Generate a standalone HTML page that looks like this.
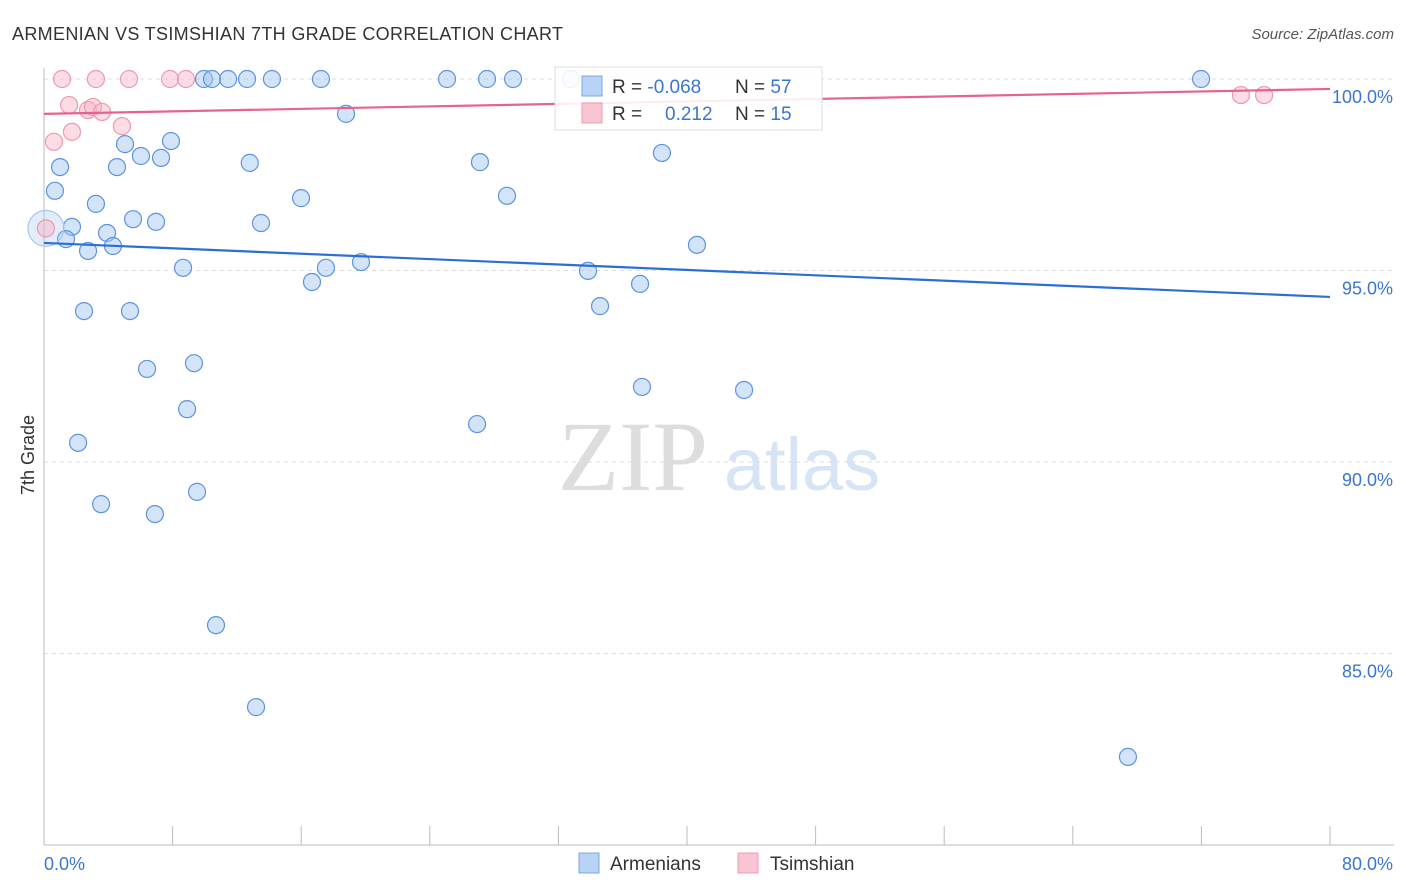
<!DOCTYPE html>
<html><head><meta charset="utf-8"><style>
body{margin:0;background:#fff;font-family:"Liberation Sans",sans-serif}
svg{display:block}
</style></head><body>
<svg id="chart" width="1406" height="892">
<text x="12" y="40" font-size="18" fill="#333" textLength="551">ARMENIAN VS TSIMSHIAN 7TH GRADE CORRELATION CHART</text>
<text x="1394" y="39" font-size="15" fill="#555" text-anchor="end" font-style="italic">Source: ZipAtlas.com</text>
<text x="34" y="455" font-size="18" fill="#333" text-anchor="middle" transform="rotate(-90 34 455)">7th Grade</text>
<g><text x="633" y="490" font-size="100" fill="#ddd" font-family="Liberation Serif,serif" text-anchor="middle">ZIP</text><text x="802" y="490" font-size="74" fill="#d6e4f5" text-anchor="middle">atlas</text></g>
<g id="grid"></g><g id="axes"></g><g id="marks"></g>
<g>
<rect x="555" y="67" width="267" height="63" fill="#fff" fill-opacity="0.88" stroke="#ddd"/>
<rect x="582" y="76" width="20" height="20" fill="#b8d3f5" stroke="#7aa7e6"/>
<rect x="582" y="103" width="20" height="20" fill="#fac5d3" stroke="#f09ab2"/>
<text x="612" y="93" font-size="19" fill="#333">R = <tspan fill="#3a76d0">-0.068</tspan></text>
<text x="735" y="93" font-size="19" fill="#333">N = <tspan fill="#3a76d0">57</tspan></text>
<text x="612" y="120" font-size="19" fill="#333">R = <tspan fill="#3a76d0" x="665">0.212</tspan></text>
<text x="735" y="120" font-size="19" fill="#333">N = <tspan fill="#3a76d0">15</tspan></text>
</g>
<g>
<rect x="579" y="853" width="20" height="20" fill="#b8d3f5" stroke="#7aa7e6"/>
<text x="610" y="870" font-size="19" fill="#333">Armenians</text>
<rect x="738" y="853" width="20" height="20" fill="#fac5d3" stroke="#f09ab2"/>
<text x="770" y="870" font-size="19" fill="#333">Tsimshian</text>
</g>
</svg>
<script>
const blueX=[9.95,10.45,11.45,12.63,14.18,17.23,25.07,27.56,29.18,32.78,71.98,18.79,7.9,5.04,6.03,7.28,4.54,1.0,12.8,27.12,38.44,0.68,15.99,28.8,3.23,5.54,6.97,13.5,1.74,3.92,1.37,4.29,2.74,40.62,8.65,17.54,19.72,16.67,33.84,37.08,34.59,2.49,5.35,6.41,9.33,37.2,43.55,8.9,26.94,2.12,3.55,6.9,9.52,10.7,13.19,67.43,0.12];
const blueY=[100,100,100,100,100,100,100,100,100,100,100,99.09,98.38,98.3,97.99,97.94,97.7,97.7,97.81,97.83,98.07,97.08,96.89,96.95,96.74,96.34,96.27,96.24,96.14,95.98,95.82,95.64,95.51,95.67,95.07,95.07,95.22,94.7,94.99,94.65,94.07,93.94,93.94,92.43,92.58,91.96,91.88,91.38,90.99,90.5,88.9,88.64,89.22,85.74,83.6,82.3,96.1];
const pinkX=[1.12,3.23,5.29,7.84,8.83,1.56,2.74,3.05,3.61,1.74,4.85,0.62,74.46,75.9,0.12];
const pinkY=[100,100,100,100,100,99.32,99.19,99.27,99.14,98.62,98.77,98.36,99.58,99.58,96.1];
const blueTrend=[95.72,94.31];
const pinkTrend=[99.09,99.74];
const yTicks=[100,95,90,85];
const yTickLabels=["100.0%","95.0%","90.0%","85.0%"];
const xTickLabels=["0.0%","80.0%"];
const NS='http://www.w3.org/2000/svg';
const sx=v=>44+v*16.075, sy=v=>79+(100-v)*38.3;
function mk(t,a,p){const e=document.createElementNS(NS,t);for(const k in a)e.setAttribute(k,a[k]);p.appendChild(e);return e;}
const grid=document.getElementById('grid'),axes=document.getElementById('axes'),marks=document.getElementById('marks');
yTicks.forEach((v,i)=>{
 const l=mk('line',{x1:44,x2:1394,y1:sy(v),y2:sy(v),stroke:'#ddd','stroke-dasharray':'4,4'},grid);
 
 
 const t=mk('text',{x:1393,y:sy(v)+24,'font-size':18,fill:'#3a76d0','text-anchor':'end'},axes);
 t.textContent=yTickLabels[i];
 
 
});
const ya=mk('line',{x1:44,x2:44,y1:68,y2:845,stroke:'#bbb'},axes);

const xa=mk('line',{x1:44,x2:1394,y1:845,y2:845,stroke:'#bbb'},axes);

for(let i=0;i<=10;i++){const tk=mk('line',{x1:sx(i*8),x2:sx(i*8),y1:826,y2:845,stroke:'#bbb'},axes);
 }
[[0,'start'],[80,'end']].forEach((d,i)=>{const t=mk('text',{x:i?1393:44,y:870,'font-size':18,fill:'#3a76d0','text-anchor':d[1]},axes);
 t.textContent=xTickLabels[i];});
blueX.forEach((x,i)=>{const big=i===blueX.length-1;
 const c=mk('circle',{cx:sx(x),cy:sy(blueY[i]),r:big?18:8.5,fill:big?'rgba(160,196,240,0.3)':'rgba(160,196,240,0.45)',stroke:big?'#a9c6ee':'#5c93e0','stroke-width':1.2},marks);
 });
pinkX.forEach((x,i)=>{
 const c=mk('circle',{cx:sx(x),cy:sy(pinkY[i]),r:8.5,fill:'rgba(248,180,200,0.45)',stroke:'#ee97b0','stroke-width':1.2},marks);
 });
const bl=mk('line',{x1:sx(0),x2:sx(80),y1:sy(blueTrend[0]),y2:sy(blueTrend[1]),stroke:'#2a6fd6','stroke-width':2.2},marks);

const pl=mk('line',{x1:sx(0),x2:sx(80),y1:sy(pinkTrend[0]),y2:sy(pinkTrend[1]),stroke:'#e8638c','stroke-width':2.2},marks);

</script>
</body></html>
